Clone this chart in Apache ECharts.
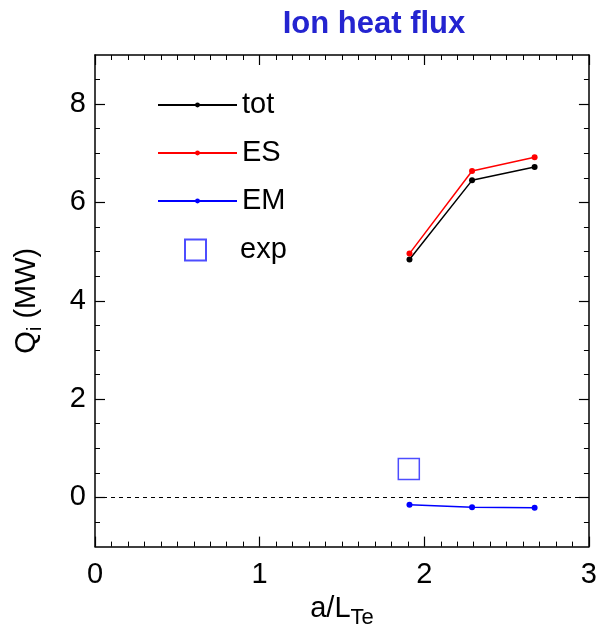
<!DOCTYPE html>
<html><head><meta charset="utf-8">
<script src="https://cdn.jsdelivr.net/npm/echarts@6/dist/echarts.min.js"></script>
<style>html,body{margin:0;padding:0;background:#fff}#c{width:600px;height:634px}</style>
</head><body><div id="c"></div>
<script>
const xVals = [1.91, 2.29, 2.67];
const totVals = [4.84, 6.45, 6.72];
const esVals = [4.96, 6.64, 6.92];
const emVals = [-0.15, -0.20, -0.21];
const expPoint = [[1.906, 0.58]];
const xTicks = [0, 1, 2, 3];
const yTicks = [0, 2, 4, 6, 8];

const F = 'Liberation Sans, Arial, Helvetica, sans-serif';
const pair = (ys) => xVals.map((x, i) => [x, ys[i]]);
const chart = echarts.init(document.getElementById('c'));

const axisCommon = {
  axisLine: {show: true, onZero: false, lineStyle: {color: '#000', width: 1.5}},
  axisTick: {show: true, inside: true, length: 10, lineStyle: {color: '#000', width: 1.2}},
  minorTick: {show: true, length: 5, lineStyle: {color: '#000', width: 1}},
  splitLine: {show: false}
};

chart.setOption({
  animation: false,
  title: {
    text: 'Ion heat flux', left: 369, top: 4, textAlign: 'center',
    textStyle: {fontFamily: F, fontWeight: 'bold', fontSize: 31, color: '#2424d0'}
  },
  grid: {left: 95, right: 7, top: 55, bottom: 85},
  legend: [{
    data: ['tot', 'ES', 'EM'], orient: 'vertical', left: 152, top: 85,
    itemWidth: 79, itemHeight: 6, itemGap: 18,
    textStyle: {fontFamily: F, fontSize: 29, color: '#000', lineHeight: 30}
  }, {
    data: ['exp'], orient: 'vertical', left: 179, top: 230,
    itemWidth: 21, itemHeight: 21,
    textStyle: {fontFamily: F, fontSize: 29, color: '#000', lineHeight: 30, padding: [0, 0, 0, 29]}
  }],
  xAxis: [{
    ...axisCommon, type: 'value', min: 0, max: 3, interval: 1, minorTick: {...axisCommon.minorTick, splitNumber: 10},
    position: 'bottom',
    axisLabel: {fontFamily: F, fontSize: 29, color: '#000', margin: 14, customValues: xTicks},
    name: '{a|a/L}{s|Te}', nameLocation: 'middle', nameGap: 42,
    nameTextStyle: {rich: {a: {fontFamily: F, fontSize: 29, color: '#000'}, s: {fontFamily: F, fontSize: 22, color: '#000', padding: [18, 0, 0, 0]}}}
  }, {
    ...axisCommon, type: 'value', min: 0, max: 3, interval: 1, minorTick: {...axisCommon.minorTick, splitNumber: 10},
    position: 'top', axisLabel: {show: false}
  }],
  yAxis: [{
    ...axisCommon, type: 'value', min: -1, max: 9,
    minorTick: {...axisCommon.minorTick, splitNumber: 4},
    axisLabel: {fontFamily: F, fontSize: 29, color: '#000', margin: 9,
      customValues: yTicks},
    axisTick: {...axisCommon.axisTick, customValues: yTicks},
    name: '{q|Q}{s|i}{q| (MW)}', nameLocation: 'middle', nameGap: 49, nameRotate: 90,
    nameTextStyle: {rich: {q: {fontFamily: F, fontSize: 29, color: '#000'}, s: {fontFamily: F, fontSize: 21, color: '#000', padding: [18, 0, 0, 0]}}}
  }, {
    ...axisCommon, type: 'value', min: -1, max: 9, position: 'right',
    minorTick: {...axisCommon.minorTick, splitNumber: 4},
    axisTick: {...axisCommon.axisTick, customValues: yTicks},
    axisLabel: {show: false}
  }],
  series: [{
    name: 'tot', type: 'line', data: pair(totVals), symbol: 'circle', symbolSize: 6,
    color: '#000', lineStyle: {width: 1.5, color: '#000'}, itemStyle: {color: '#000'}
  }, {
    name: 'ES', type: 'line', data: pair(esVals), symbol: 'circle', symbolSize: 6,
    color: '#ff0000', lineStyle: {width: 1.5, color: '#ff0000'}, itemStyle: {color: '#ff0000'}
  }, {
    name: 'EM', type: 'line', data: pair(emVals), symbol: 'circle', symbolSize: 6,
    color: '#0000ff', lineStyle: {width: 1.5, color: '#0000ff'}, itemStyle: {color: '#0000ff'},
    markLine: {silent: true, symbol: 'none', label: {show: false},
      lineStyle: {type: [4, 4], color: '#000', width: 1.2},
      data: [{yAxis: 0}]}
  }, {
    name: 'exp', type: 'scatter', data: expPoint, symbol: 'rect', symbolSize: 21,
    itemStyle: {color: 'rgba(0,0,0,0)', borderColor: '#2020ff', borderWidth: 1.5}
  }]
});
</script></body></html>
